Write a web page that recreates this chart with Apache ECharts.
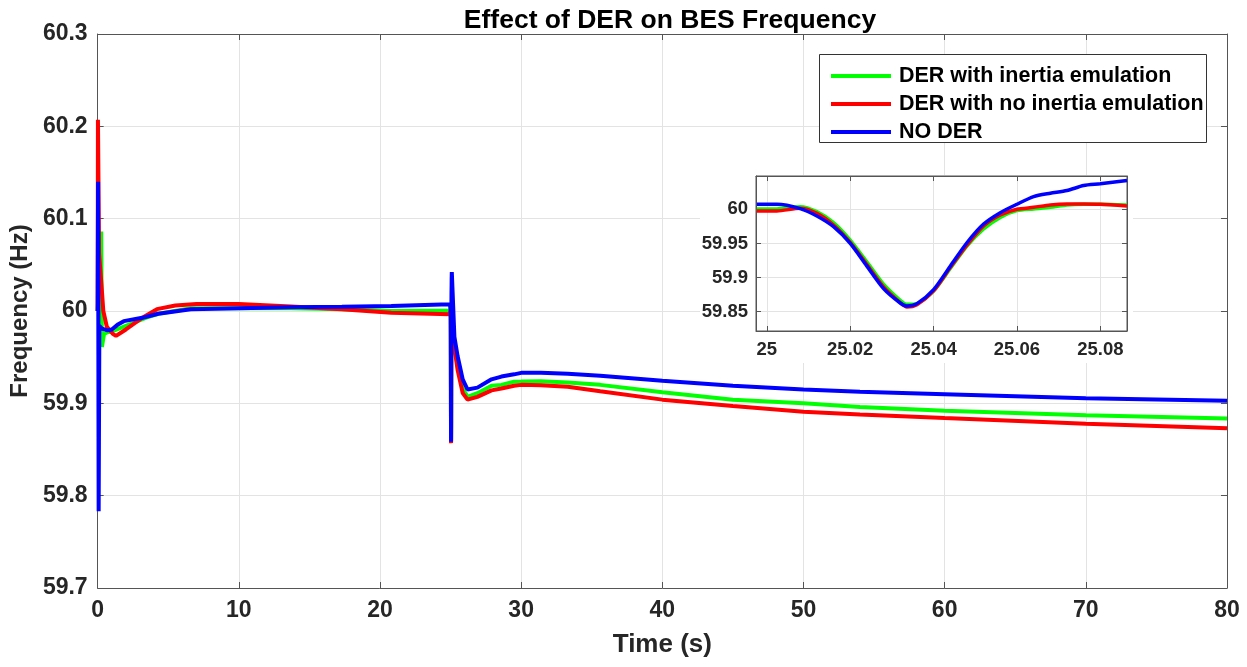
<!DOCTYPE html>
<html>
<head>
<meta charset="utf-8">
<script src="https://cdn.jsdelivr.net/npm/echarts@6/dist/echarts.min.js"></script>
<style>
html,body{margin:0;padding:0;background:#fff;}
#chart{width:1247px;height:667px;}
</style>
</head>
<body>
<div id="chart"></div>
<script>
// ---------- DATA ----------
const seriesNames = ['DER with inertia emulation', 'DER with no inertia emulation', 'NO DER'];
const seriesColors = ['#00ff00', '#ff0000', '#0000ff'];

// initial transient (0 - 25 s), per series
const greenInitT = [0, 0.25, 0.3, 0.45, 0.7, 1.0, 1.5, 2.5, 3.5, 4.3, 6.6, 10, 13.7, 17.3, 20.8, 24.95];
const greenInitF = [60.0, 60.086, 59.961, 59.975, 59.977, 59.978, 59.981, 59.987, 59.993, 59.997, 60.003, 60.003, 60.003, 60.002, 60.0, 60.0005];
const redInitT = [0, 0.02, 0.1, 0.28, 0.4, 0.65, 1.1, 1.3, 2.0, 3.2, 4.2, 5.5, 7, 10, 13.7, 17.3, 20.8, 24.95];
const redInitF = [60.0, 60.207, 60.063, 60.026, 60.0, 59.983, 59.975, 59.973, 59.98, 59.993, 60.002, 60.006, 60.0075, 60.0075, 60.005, 60.002, 59.998, 59.9966];
const blueInitT = [0, 0.03, 0.07, 0.12, 0.3, 0.7, 1.0, 1.4, 1.85, 3.25, 4.3, 6.6, 10, 13.7, 17.3, 20.8, 24.95];
const blueInitF = [60.0, 60.14, 59.783, 59.984, 59.981, 59.979, 59.98, 59.985, 59.989, 59.993, 59.997, 60.002, 60.003, 60.004, 60.0045, 60.0055, 60.0074];

// disturbance at 25 s (also shown in the inset)
const zoomT = [24.9976, 25.0024, 25.008, 25.012, 25.016, 25.02, 25.024, 25.028, 25.032, 25.0336, 25.036, 25.04, 25.044, 25.048, 25.052, 25.056, 25.06, 25.064, 25.068, 25.072, 25.076, 25.08, 25.0864];
const greenZoomF = [60.0005, 60.0005, 60.0039, 59.9966, 59.9804, 59.9549, 59.923, 59.8902, 59.8667, 59.8608, 59.8618, 59.8804, 59.9132, 59.9461, 59.9711, 59.9882, 59.998, 60.0005, 60.0029, 60.0064, 60.0074, 60.0074, 60.0064];
const redZoomF = [59.9975, 59.9975, 60.0015, 59.9941, 59.977, 59.9515, 59.9191, 59.8863, 59.8632, 59.8569, 59.8603, 59.8804, 59.9147, 59.9475, 59.9755, 59.9917, 60.0, 60.0029, 60.0064, 60.0078, 60.0078, 60.0074, 60.0049];
const blueZoomF = [60.0074, 60.0074, 60.001, 59.9902, 59.9745, 59.95, 59.9167, 59.8838, 59.8627, 59.8583, 59.8618, 59.8824, 59.9167, 59.951, 59.9784, 59.9951, 60.0074, 60.0186, 60.0235, 60.0275, 60.0348, 60.0373, 60.0422];

// after disturbance (25.1 - 80 s)
const postT = [25.27, 25.5, 25.86, 26.2, 26.9, 27.9, 28.6, 29.5, 30, 31.4, 33.3, 35.6, 40, 45, 50, 54, 60, 70, 80];
const greenPostF = [59.963, 59.94, 59.9165, 59.907, 59.911, 59.919, 59.92, 59.9235, 59.9236, 59.924, 59.9225, 59.92, 59.912, 59.904, 59.9, 59.896, 59.892, 59.887, 59.8837];
const redPostF = [59.961, 59.936, 59.911, 59.904, 59.907, 59.914, 59.916, 59.919, 59.92, 59.9195, 59.918, 59.913, 59.904, 59.897, 59.891, 59.888, 59.884, 59.878, 59.873];
const bluePostF = [59.972, 59.951, 59.926, 59.915, 59.917, 59.926, 59.929, 59.9314, 59.933, 59.933, 59.932, 59.93, 59.9245, 59.919, 59.915, 59.9125, 59.9098, 59.9054, 59.9028];

// tick values
const insetXTicks = [25, 25.02, 25.04, 25.06, 25.08];
const insetYTicks = [59.85, 59.9, 59.95, 60];

// ---------- BUILD ----------
function pairs(t, f) { return t.map((x, i) => [x, f[i]]); }
const mainData = [
  pairs(greenInitT, greenInitF).concat(pairs(zoomT, greenZoomF), pairs(postT, greenPostF)),
  pairs(redInitT, redInitF).concat(pairs(zoomT, redZoomF), pairs(postT, redPostF)),
  pairs(blueInitT, blueInitF).concat(pairs(zoomT, blueZoomF), pairs(postT, bluePostF))
];
const insetData = [pairs(zoomT, greenZoomF), pairs(zoomT, redZoomF), pairs(zoomT, blueZoomF)];

const FONT = '"Liberation Sans", Arial, sans-serif';
const TXT = '#262626';
const AX = '#555';
const fmt2 = v => String(+(+v).toFixed(2));

const series = [];
mainData.forEach((d, i) => series.push({
  name: seriesNames[i], type: 'line', data: d, xAxisIndex: 0, yAxisIndex: 0,
  showSymbol: false, symbol: 'none', color: seriesColors[i],
  lineStyle: { width: 4, color: seriesColors[i] }, z: 2 + i * 0.1
}));
insetData.forEach((d, i) => series.push({
  name: seriesNames[i], type: 'line', data: d, xAxisIndex: 1, yAxisIndex: 1,
  showSymbol: false, symbol: 'none', color: seriesColors[i], smooth: 0.25,
  lineStyle: { width: 3.5, color: seriesColors[i] }, z: 5 + i * 0.1
}));

const option = {
  backgroundColor: '#fff',
  animation: false,
  title: {
    text: 'Effect of DER on BES Frequency',
    left: 665, top: 2, textAlign: 'center',
    textStyle: { fontFamily: FONT, fontWeight: 'bold', fontSize: 26.5, color: '#000' }
  },
  legend: {
    data: seriesNames, orient: 'vertical', left: 826, top: 60,
    icon: 'rect', itemWidth: 60, itemHeight: 4, itemGap: 6,
    selectedMode: false, z: 10,
    textStyle: { fontFamily: FONT, fontWeight: 'bold', fontSize: 21.5, color: '#000', lineHeight: 22, padding: [0, 0, 0, 3] }
  },
  graphic: [
    { type: 'rect', z: 1, shape: { x: 700, y: 175, width: 433, height: 188 }, style: { fill: '#fff' } },
    { type: 'rect', z: 9, shape: { x: 819.5, y: 54.5, width: 387, height: 88 }, style: { fill: '#fff', stroke: '#333', lineWidth: 1 } }
  ],
  grid: [
    { left: 96, right: 20, top: 34, bottom: 79, show: false },
    { left: 756, right: 120, top: 176, bottom: 336, show: true, z: 2, backgroundColor: '#fff', borderColor: AX, borderWidth: 1 }
  ],
  xAxis: [
    {
      type: 'value', gridIndex: 0, min: 0, max: 80, interval: 10,
      name: 'Time (s)', nameLocation: 'middle', nameGap: 44,
      nameTextStyle: { fontFamily: FONT, fontWeight: 'bold', fontSize: 26, color: TXT },
      axisLine: { show: true, onZero: false, lineStyle: { color: AX, width: 1 } },
      axisTick: { show: true, inside: true, length: 6, lineStyle: { color: AX } },
      axisLabel: { fontFamily: FONT, fontWeight: 'bold', fontSize: 23, color: TXT, margin: 11 },
      splitLine: { show: true, lineStyle: { color: '#e3e3e3', width: 1 } }
    },
    {
      type: 'value', gridIndex: 1, min: 24.9974, max: 25.0864, z: 3,
      axisLine: { show: true, onZero: false, lineStyle: { color: AX, width: 1 } },
      axisTick: { show: true, inside: true, length: 5, lineStyle: { color: AX }, customValues: insetXTicks },
      axisLabel: { fontFamily: FONT, fontWeight: 'bold', fontSize: 18.5, color: TXT, margin: 9, customValues: insetXTicks, formatter: fmt2 },
      splitLine: { show: true, lineStyle: { color: '#e3e3e3', width: 1 } }
    },
    {
      type: 'value', gridIndex: 0, min: 0, max: 80, interval: 10, position: 'top',
      axisLine: { show: true, onZero: false, lineStyle: { color: AX, width: 1 } },
      axisTick: { show: true, inside: true, length: 6, lineStyle: { color: AX } },
      axisLabel: { show: false }, splitLine: { show: false }
    },
    {
      type: 'value', gridIndex: 1, min: 24.9974, max: 25.0864, position: 'top', z: 3,
      axisLine: { show: true, onZero: false, lineStyle: { color: AX, width: 1 } },
      axisTick: { show: true, inside: true, length: 5, lineStyle: { color: AX }, customValues: insetXTicks },
      axisLabel: { show: false }, splitLine: { show: false }
    }
  ],
  yAxis: [
    {
      type: 'value', gridIndex: 0, min: 59.7, max: 60.3, interval: 0.1,
      name: 'Frequency (Hz)', nameLocation: 'middle', nameGap: 61,
      nameTextStyle: { fontFamily: FONT, fontWeight: 'bold', fontSize: 24, color: TXT },
      axisLine: { show: true, onZero: false, lineStyle: { color: AX, width: 1 } },
      axisTick: { show: true, inside: true, length: 6, lineStyle: { color: AX } },
      axisLabel: { fontFamily: FONT, fontWeight: 'bold', fontSize: 23, color: TXT, margin: 10, formatter: v => String(+(+v).toFixed(1)) },
      splitLine: { show: true, lineStyle: { color: '#e3e3e3', width: 1 } }
    },
    {
      type: 'value', gridIndex: 1, min: 59.8217, max: 60.0488, z: 3,
      axisLine: { show: true, onZero: false, lineStyle: { color: AX, width: 1 } },
      axisTick: { show: true, inside: true, length: 5, lineStyle: { color: AX }, customValues: insetYTicks },
      axisLabel: { fontFamily: FONT, fontWeight: 'bold', fontSize: 18.5, color: TXT, margin: 8, customValues: insetYTicks, formatter: fmt2 },
      splitLine: { show: true, lineStyle: { color: '#e3e3e3', width: 1 } }
    },
    {
      type: 'value', gridIndex: 0, min: 59.7, max: 60.3, interval: 0.1, position: 'right',
      axisLine: { show: true, onZero: false, lineStyle: { color: AX, width: 1 } },
      axisTick: { show: true, inside: true, length: 6, lineStyle: { color: AX } },
      axisLabel: { show: false }, splitLine: { show: false }
    },
    {
      type: 'value', gridIndex: 1, min: 59.8217, max: 60.0488, position: 'right', z: 3,
      axisLine: { show: true, onZero: false, lineStyle: { color: AX, width: 1 } },
      axisTick: { show: true, inside: true, length: 5, lineStyle: { color: AX }, customValues: insetYTicks },
      axisLabel: { show: false }, splitLine: { show: false }
    }
  ],
  series: series
};

const chart = echarts.init(document.getElementById('chart'), null, { renderer: 'canvas' });
chart.setOption(option);
</script>
</body>
</html>
